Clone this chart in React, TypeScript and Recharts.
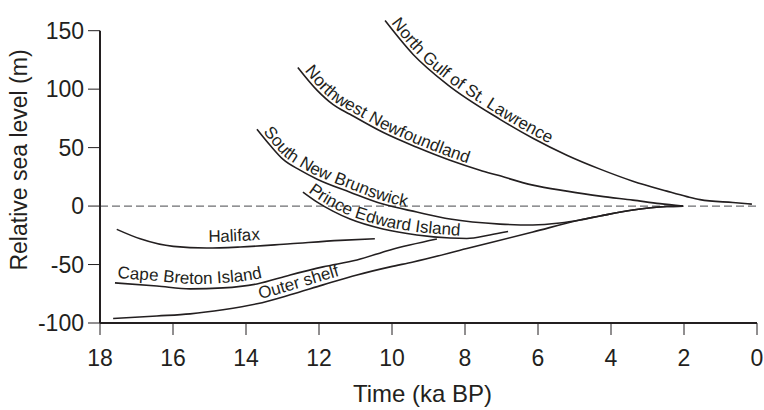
import React from "react";
import { LineChart, Line, XAxis, YAxis, ReferenceLine, Label } from "recharts";

const INK = "#231f20";
const FONT = '"Liberation Sans", Arial, Helvetica, sans-serif';

// age in ka BP, relative sea level in m
const gulfAge = [10.19, 9.42, 8.49, 7.04, 6.14, 5.21, 4.3, 3.4, 2.47, 1.92, 1.56, 0.66, 0.14];
const gulfRsl = [158.7, 129.7, 104.1, 74.2, 58.0, 43.5, 31.6, 21.3, 12.8, 8.1, 5.5, 3.0, 1.7];

const nwnAge = [12.58, 12.05, 11.62, 11.15, 10.25, 9.32, 8.41, 7.59, 7.12, 6.14, 5.21, 4.3, 3.4, 2.66, 2.03];
const nwnRsl = [118.6, 99.0, 87.0, 78.5, 63.1, 50.3, 39.2, 30.7, 26.5, 17.9, 12.8, 8.5, 5.1, 2.1, 0];

const snbAge = [13.7, 13.34, 12.99, 12.52, 12.05, 11.15, 10.25, 9.32, 8.41, 7.04, 6.14, 5.4, 4.85, 4.3, 3.4, 2.47, 2.03];
const snbRsl = [65.7, 52.0, 40.1, 30.7, 23.0, 11.9, 1.7, -5.1, -11.1, -15.4, -16.2, -14.5, -11.9, -8.5, -3.4, -0.4, 0];

const peiAge = [12.44, 12.05, 11.62, 11.15, 10.25, 9.32, 8.41, 7.95, 7.32, 6.82];
const peiRsl = [12.0, 3.4, -4.3, -11.1, -19.6, -24.7, -27.3, -27.7, -24.7, -21.8];

const halAge = [17.54, 16.9, 15.99, 15.08, 14.16, 12.79, 11.42, 10.47];
const halRsl = [-19.9, -28.0, -34.5, -35.9, -35.0, -32.2, -29.3, -27.9];

const cbiAge = [17.59, 16.44, 15.53, 14.63, 13.7, 12.79, 11.89, 10.96, 10.05, 8.77];
const cbiRsl = [-65.7, -68.3, -70.8, -70.0, -66.6, -58.9, -52.0, -46.1, -37.5, -28.2];

const shelfAge = [17.64, 16.44, 15.53, 14.63, 13.7, 12.79, 11.89, 10.96, 10.05, 9.42, 7.95, 6.14, 4.85, 4.3, 3.4, 2.47, 2.03];
const shelfRsl = [-96.2, -94.0, -92.2, -88.7, -83.6, -75.9, -67.4, -58.9, -52.0, -47.8, -36.3, -22.2, -11.9, -8.5, -3.4, -0.4, 0];

const ageTicks = [18, 16, 14, 12, 10, 8, 6, 4, 2, 0];
const rslTicks = [-100, -50, 0, 50, 100, 150];

const zip = (age: number[], rsl: number[]) => age.map((a, i) => ({ age: a, rsl: rsl[i] }));

type Pt = { x: number; y: number };

const series = [
  { name: "North Gulf of St. Lawrence", data: zip(gulfAge, gulfRsl), offset: 6, lift: 3 },
  { name: "Northwest Newfoundland", data: zip(nwnAge, nwnRsl), offset: 7, lift: 3 },
  { name: "South New Brunswick", data: zip(snbAge, snbRsl), offset: 6, lift: 3 },
  { name: "Prince Edward Island", data: zip(peiAge, peiRsl), offset: 4, lift: 3 },
  { name: "Halifax", data: zip(halAge, halRsl), offset: 92, lift: 6 },
  { name: "Cape Breton Island", data: zip(cbiAge, cbiRsl), offset: 2, lift: 5 },
  { name: "Outer shelf", data: zip(shelfAge, shelfRsl), offset: 148, lift: 4 },
];

// push the points off the curve, to the upper side, so the text sits above the line
function lifted(pts: Pt[], lift: number): Pt[] {
  return pts.map((p, i) => {
    const a = pts[Math.max(i - 1, 0)];
    const b = pts[Math.min(i + 1, pts.length - 1)];
    const tx = b.x - a.x;
    const ty = b.y - a.y;
    const len = Math.hypot(tx, ty) || 1;
    return { x: p.x + (ty / len) * lift, y: p.y - (tx / len) * lift };
  });
}

function smooth(pts: Pt[]) {
  let d = `M${pts[0].x},${pts[0].y}`;
  for (let i = 0; i < pts.length - 1; i++) {
    const p0 = pts[i - 1] || pts[i];
    const p1 = pts[i];
    const p2 = pts[i + 1];
    const p3 = pts[i + 2] || p2;
    const c1x = p1.x + (p2.x - p0.x) / 6;
    const c1y = p1.y + (p2.y - p0.y) / 6;
    const c2x = p2.x - (p3.x - p1.x) / 6;
    const c2y = p2.y - (p3.y - p1.y) / 6;
    d += ` C${c1x},${c1y} ${c2x},${c2y} ${p2.x},${p2.y}`;
  }
  return d;
}

// the dot callback collects the projected points, and on the last one draws the label along the curve
function curveLabel(name: string, n: number, offset: number, lift: number, id: string) {
  const seen: Pt[] = [];
  return (props: any) => {
    const { cx, cy, index } = props;
    seen[index] = { x: cx, y: cy };
    if (index !== n - 1) return <g key={`d-${id}-${index}`} />;
    const pts: Pt[] = Array.isArray(props.points)
      ? props.points.map((p: any) => ({ x: p.x, y: p.y }))
      : seen.slice(0, n);
    return (
      <g key={`d-${id}-${index}`}>
        <path id={id} d={smooth(lifted(pts, lift))} fill="none" stroke="none" />
        <text fontSize={17} fontFamily={FONT} fill={INK}>
          <textPath href={`#${id}`} startOffset={offset}>
            {name}
          </textPath>
        </text>
      </g>
    );
  };
}

const timeTitle = (props: any) => {
  const { x, y, width, height } = props.viewBox;
  return (
    <text x={x + width / 2 - 6} y={y + height - 8} textAnchor="middle" fontSize={24} fontFamily={FONT} fill={INK}>
      Time (ka BP)
    </text>
  );
};

const rslTitle = (props: any) => {
  const { x, y, height } = props.viewBox;
  const tx = x + 27;
  const ty = y + height / 2 - 11;
  return (
    <text x={tx} y={ty} transform={`rotate(-90, ${tx}, ${ty})`} textAnchor="middle" fontSize={23} fontFamily={FONT} fill={INK}>
      Relative sea level (m)
    </text>
  );
};

export default function App() {
  return (
    <div style={{ position: "absolute", left: 0, top: 0, background: "#fff" }}>
      <LineChart width={764} height={410} margin={{ top: 19, right: 7, bottom: 0, left: 0 }}>
        <XAxis
          type="number"
          dataKey="age"
          domain={[0, 18]}
          reversed
          ticks={ageTicks}
          interval={0}
          height={87}
          tickSize={12}
          tickMargin={15}
          axisLine={{ stroke: INK, strokeWidth: 2 }}
          tickLine={{ stroke: INK, strokeWidth: 1 }}
          tick={{ fill: INK, fontSize: 23, fontFamily: FONT }}
        >
          <Label content={timeTitle} />
        </XAxis>
        <YAxis
          type="number"
          domain={[-100, 160]}
          ticks={rslTicks}
          interval={0}
          width={100}
          tickSize={12}
          tickMargin={4}
          axisLine={false}
          tickLine={{ stroke: INK, strokeWidth: 1 }}
          tick={{ fill: INK, fontSize: 23, fontFamily: FONT }}
        >
          <Label content={rslTitle} />
        </YAxis>
        <ReferenceLine y={0} stroke="#6d6e71" strokeWidth={1.3} strokeDasharray="8 4" />
        <ReferenceLine
          segment={[
            { x: 18, y: -100 },
            { x: 18, y: 150 },
          ]}
          stroke={INK}
          strokeWidth={2}
        />
        {series.map((s, i) => (
          <Line
            key={s.name}
            name={s.name}
            data={s.data}
            dataKey="rsl"
            type="monotone"
            stroke={INK}
            strokeWidth={1.6}
            dot={curveLabel(s.name, s.data.length, s.offset, s.lift, `curve-${i}`)}
            activeDot={false}
            isAnimationActive={false}
          />
        ))}
      </LineChart>
    </div>
  );
}
